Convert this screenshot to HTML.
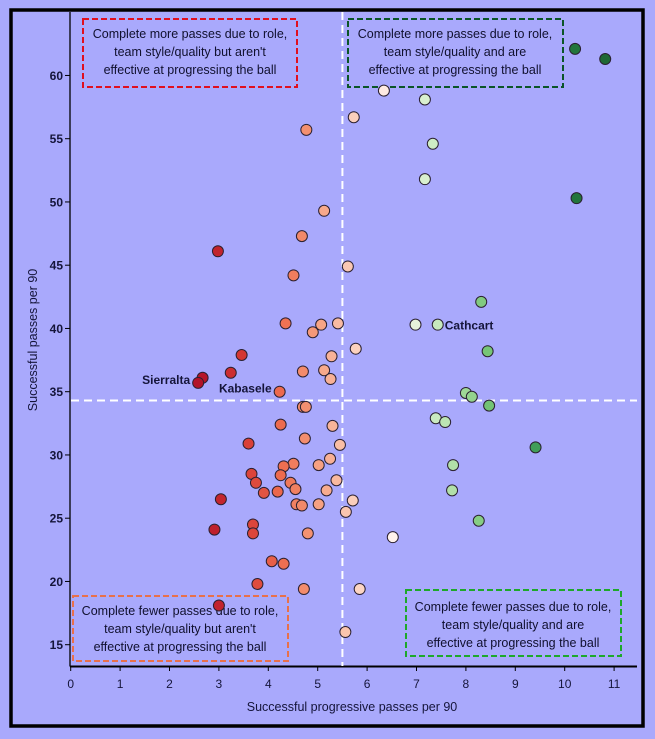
<!DOCTYPE html>
<html><head><meta charset="utf-8"><style>
html,body{margin:0;padding:0;background:#a9a9fc;}
svg{display:block;font-family:"Liberation Sans","DejaVu Sans",sans-serif;}
</style></head><body>
<svg id="chart" width="655" height="739" viewBox="0 0 655 739">
<rect x="0" y="0" width="655" height="739" fill="#a9a9fc"/>
<rect x="11" y="10" width="632" height="716" fill="none" stroke="#000" stroke-width="3.5"/>
<g id="axes"></g>
<g id="refs"></g>
<g id="boxes">
 <g>
  <rect x="83" y="19" width="214" height="68" fill="none" stroke="#e0101e" stroke-width="2" stroke-dasharray="6,3"/>
  <text x="190" y="38" text-anchor="middle" font-size="12.5" fill="#10102e">Complete more passes due to role,</text>
  <text x="190" y="56" text-anchor="middle" font-size="12.5" fill="#10102e">team style/quality but aren't</text>
  <text x="190" y="74" text-anchor="middle" font-size="12.5" fill="#10102e">effective at progressing the ball</text>
 </g>
 <g>
  <rect x="348" y="19" width="215" height="68" fill="none" stroke="#0b5528" stroke-width="2" stroke-dasharray="6,3"/>
  <text x="455" y="38" text-anchor="middle" font-size="12.5" fill="#10102e">Complete more passes due to role,</text>
  <text x="455" y="56" text-anchor="middle" font-size="12.5" fill="#10102e">team style/quality and are</text>
  <text x="455" y="74" text-anchor="middle" font-size="12.5" fill="#10102e">effective at progressing the ball</text>
 </g>
 <g>
  <rect x="73" y="596" width="215" height="65" fill="none" stroke="#e8704a" stroke-width="2" stroke-dasharray="6,3"/>
  <text x="180" y="615" text-anchor="middle" font-size="12.5" fill="#10102e">Complete fewer passes due to role,</text>
  <text x="180" y="633" text-anchor="middle" font-size="12.5" fill="#10102e">team style/quality but aren't</text>
  <text x="180" y="651" text-anchor="middle" font-size="12.5" fill="#10102e">effective at progressing the ball</text>
 </g>
 <g>
  <rect x="406" y="590" width="215" height="66" fill="none" stroke="#1ea82a" stroke-width="2" stroke-dasharray="6,3"/>
  <text x="513" y="611" text-anchor="middle" font-size="12.5" fill="#10102e">Complete fewer passes due to role,</text>
  <text x="513" y="629" text-anchor="middle" font-size="12.5" fill="#10102e">team style/quality and are</text>
  <text x="513" y="647" text-anchor="middle" font-size="12.5" fill="#10102e">effective at progressing the ball</text>
 </g>
</g>
<g id="points"></g>
<g id="labels"></g>
<text x="352" y="711" text-anchor="middle" font-size="12.5" fill="#15153a">Successful progressive passes per 90</text>
<text transform="translate(37,340) rotate(-90)" text-anchor="middle" font-size="12.5" fill="#15153a">Successful passes per 90</text>
</svg>
<script>
const progPasses = [4.68,2.98,5.61,4.51,4.35,5.07,5.41,4.90,5.77,3.46,5.28,3.24,4.70,5.13,5.26,2.67,2.58,4.23,4.70,4.76,
4.25,5.30,3.60,4.74,5.45,4.51,4.31,5.25,5.02,3.66,4.25,3.75,4.45,5.38,4.55,3.91,4.19,5.18,3.04,5.71,4.57,4.68,5.02,5.57,2.91,3.69,3.69,4.80,4.07,4.31,3.78,4.72,5.85,3.00,5.56,
4.77,5.73,5.13,6.34,7.17,7.33,7.17,10.21,10.82,10.24,8.31,6.98,7.43,8.44,8.00,8.12,8.47,7.39,7.58,9.41,7.74,7.72,8.26,6.52];
const passes = [47.3,46.1,44.9,44.2,40.4,40.3,40.4,39.7,38.4,37.9,37.8,36.5,36.6,36.7,36.0,36.1,35.7,35.0,33.8,33.8,
32.4,32.3,30.9,31.3,30.8,29.3,29.1,29.7,29.2,28.5,28.4,27.8,27.8,28.0,27.3,27.0,27.1,27.2,26.5,26.4,26.1,26.0,26.1,25.5,24.1,24.5,23.8,23.8,21.6,21.4,19.8,19.4,19.4,18.1,16.0,
55.7,56.7,49.3,58.8,58.1,54.6,51.8,62.1,61.3,50.3,42.1,40.3,40.3,38.2,34.9,34.6,33.9,32.9,32.6,30.6,29.2,27.2,24.8,23.5];
const xTicks = [0,1,2,3,4,5,6,7,8,9,10,11];
const yTicks = [15,20,25,30,35,40,45,50,55,60];
const xRef = 5.5, yRef = 34.3;
const namedPlayers = ["Sierralta","Kabasele","Cathcart"];
const namedX = [2.58,4.23,7.43];
const namedY = [35.7,35.0,40.3];

const NS = "http://www.w3.org/2000/svg";
const X = v => 70.7 + v*49.4;
const Y = v => 644.7 - (v-15)*12.65;
function mk(tag, attrs, parent){const e=document.createElementNS(NS,tag);for(const k in attrs)e.setAttribute(k,attrs[k]);parent.appendChild(e);return e;}
const axes=document.getElementById('axes');
let l=mk('line',{x1:70,y1:12,x2:70,y2:666.5,stroke:'#000','stroke-width':1.3},axes);


l=mk('line',{x1:70,y1:666.5,x2:637,y2:666.5,stroke:'#000','stroke-width':2},axes);


xTicks.forEach(t=>{
  const tk=mk('line',{x1:X(t),y1:666,x2:X(t),y2:671,stroke:'#000','stroke-width':1},axes);
  
  
  const tx=mk('text',{x:X(t),y:688,'text-anchor':'middle','font-size':12,fill:'#15153a'},axes);
  tx.textContent=t;
  
  
});
yTicks.forEach(t=>{
  const tk=mk('line',{x1:65,y1:Y(t),x2:70,y2:Y(t),stroke:'#000','stroke-width':1},axes);
  
  
  const tx=mk('text',{x:63,y:Y(t)+4.5,'text-anchor':'end','font-size':12,'font-weight':'bold',fill:'#15153a'},axes);
  tx.textContent=t;
  
  
});
const refs=document.getElementById('refs');
let r=mk('line',{x1:X(xRef),y1:12,x2:X(xRef),y2:666,stroke:'#fff','stroke-width':2,'stroke-dasharray':'8,5'},refs);


r=mk('line',{x1:71,y1:Y(yRef),x2:637,y2:Y(yRef),stroke:'#fff','stroke-width':2,'stroke-dasharray':'8,5'},refs);



const stops=[[2.6,[178,19,40]],[3.5,[214,57,52]],[4.3,[238,110,80]],[5.0,[246,160,128]],[5.7,[251,206,186]],[6.6,[255,246,242]],[7.2,[215,240,205]],[8.0,[158,216,150]],[8.5,[112,194,115]],[9.4,[64,158,88]],[10.2,[34,118,60]],[11,[30,100,50]]];
function col(v){
  if(v<=stops[0][0])return 'rgb('+stops[0][1]+')';
  for(let i=1;i<stops.length;i++){if(v<=stops[i][0]){const a=stops[i-1],b=stops[i],t=(v-a[0])/(b[0]-a[0]);return 'rgb('+a[1].map((c,j)=>Math.round(c+(b[1][j]-c)*t)).join(',')+')';}}
  return 'rgb('+stops[stops.length-1][1]+')';
}
const pts=document.getElementById('points');
progPasses.forEach((v,i)=>{
  const c=mk('circle',{cx:X(v),cy:Y(passes[i]),r:5.5,fill:col(v),stroke:'#2a2030','stroke-width':1},pts);
  
  
});
const lab=document.getElementById('labels');
namedPlayers.forEach((n,i)=>{
  const right = namedX[i] > xRef;
  const t=mk('text',{x:right?X(namedX[i])+7:X(namedX[i])-8,y:right?Y(namedY[i])+5:Y(namedY[i])+1,'text-anchor':right?'start':'end','font-size':12,'font-weight':'bold',fill:'#15153a'},lab);
  t.textContent=n;
  
  
});
</script>
</body></html>
